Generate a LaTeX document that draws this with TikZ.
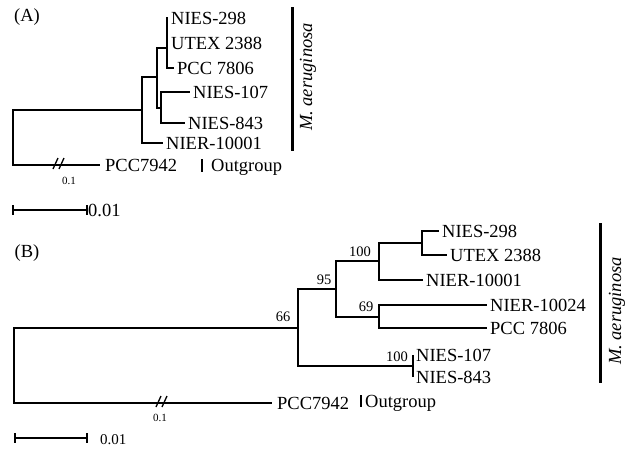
\documentclass[tikz,border=0pt]{standalone}
\usepackage{fontspec}
\setmainfont{Liberation Serif}
\newcommand\mylabfont{\fontsize{18.5}{20}\selectfont}
\newcommand\myboofont{\fontsize{14.5}{16}\selectfont}
\newcommand\mybrkfont{\fontsize{11}{12}\selectfont}
\begin{document}
\begin{tikzpicture}[x=1pt,y=-1pt,
  brn/.style={line width=1.3pt},
  lab/.style={anchor=west,inner ysep=2pt,inner xsep=3pt,font=\mylabfont,text height=12pt,text depth=0pt},
  boot/.style={font=\myboofont,inner sep=1pt},
  brklab/.style={font=\mybrkfont,inner sep=0pt},
  clade/.style={line width=3pt},
  cladelab/.style={rotate=90,font=\mylabfont\itshape,text height=12pt,text depth=4pt,inner sep=0pt},
  panel/.style={font=\mylabfont,inner sep=0pt}]
\useasboundingbox (0,0) rectangle (629,448);

% ---------------- Panel A ----------------
\node[panel] (pA) at (27,17) {(A)};
\coordinate (ar) at (13,137);
\coordinate (a1) at (142,110);
\coordinate (a2) at (157,77);
\coordinate (a3) at (161,108);
\coordinate (a4) at (167,48);
\coordinate (a5) at (167,31);
\coordinate (a6) at (167,43);

\node[lab] (nierA) at (163,143) {NIER-10001};
\node[lab] (n107A) at (190,92) {NIES-107};
\node[lab] (n843A) at (185,123) {NIES-843};
\node[lab] (pcc7806A) at (174,68) {PCC 7806};
\node[lab] (n298A) at (168,18) {NIES-298};
\node[lab] (utexA) at (168,43) {UTEX 2388};
\node[lab,inner xsep=5pt] (pccA) at (100,165) {PCC7942};

\draw[brn] (ar) |- (a1);
\draw[brn] (a1) |- (a2);
\draw[brn] (a1) |- (nierA.west);
\draw[brn] (a2) |- (a3);
\draw[brn] (a2) |- (a4);
\draw[brn] (a3) |- (n107A.west);
\draw[brn] (a3) |- (n843A.west);
\draw[brn] (a4) |- (pcc7806A.west);
\draw[brn] (a4) |- (n298A.west);
\draw[brn] (a4) |- (utexA.west);
\draw[line width=2.6pt] (a5) -- (a6);
\draw[brn] (ar) |- (pccA.west);
\coordinate (brkA) at (58,165);
\draw[brn] (brkA) ++(-5,4) -- ++(5,-11);
\draw[brn] (brkA) ++(1,4) -- ++(5,-11);
\node[brklab] (brkAl) at (69,181) {0.1};

\node[lab,inner xsep=2pt] (ogA) at (209,165) {Outgroup};
\coordinate (ogAt) at (202,159);
\coordinate (ogAb) at (202,172);
\draw[line width=2.4pt] (ogAt) -- (ogAb);

\coordinate (mAt) at (292,7);
\coordinate (mAb) at (292,151);
\draw[clade] (mAt) -- (mAb);
\node[cladelab] (mAl) at (308,77) {M. aeruginosa};

\coordinate (sA1) at (13,210);
\coordinate (sA2) at (87,210);
\draw[brn] (sA1) -- (sA2);
\draw[brn] (sA1) ++(0,-5) -- ++(0,10);
\draw[brn] (sA2) ++(0,-5) -- ++(0,10);
\node[lab,inner xsep=1pt] (sAl) at (87,210) {0.01};

% ---------------- Panel B ----------------
\node[panel] (pB) at (27,253) {(B)};
\coordinate (br) at (14,365);
\coordinate (b1) at (298,328);
\coordinate (b2) at (336,289);
\coordinate (b3) at (379,261);
\coordinate (b4) at (422,243);
\coordinate (b5) at (379,317);
\coordinate (b6) at (413,366);

\node[lab] (n298B) at (439,231) {NIES-298};
\node[lab] (utexB) at (447,255) {UTEX 2388};
\node[lab] (nierB) at (423,280) {NIER-10001};
\node[lab] (nier24B) at (487,305) {NIER-10024};
\node[lab] (pcc7806B) at (487,328) {PCC 7806};
\node[lab] (n107B) at (413,355) {NIES-107};
\node[lab] (n843B) at (413,377) {NIES-843};
\node[lab,inner xsep=5pt] (pccB) at (272,403) {PCC7942};

\draw[brn] (br) |- (b1);
\draw[brn] (b1) |- (b2);
\draw[brn] (b1) |- (b6);
\draw[brn] (b2) |- (b3);
\draw[brn] (b2) |- (b5);
\draw[brn] (b3) |- (b4);
\draw[brn] (b3) |- (nierB.west);
\draw[brn] (b4) |- (n298B.west);
\draw[brn] (b4) |- (utexB.west);
\draw[brn] (b5) |- (nier24B.west);
\draw[brn] (b5) |- (pcc7806B.west);
\draw[brn] (b6) |- (n107B.west);
\draw[brn] (b6) |- (n843B.west);
\draw[brn] (br) |- (pccB.west);

\node[boot] (bs66) at (283,317) {66};
\node[boot] (bs95) at (324,280) {95};
\node[boot] (bs100a) at (360,252) {100};
\node[boot] (bs69) at (366,307) {69};
\node[boot] (bs100b) at (397,357) {100};

\coordinate (brkB) at (161,403);
\draw[brn] (brkB) ++(-5,4) -- ++(5,-11);
\draw[brn] (brkB) ++(1,4) -- ++(5,-11);
\node[brklab] (brkBl) at (160,418) {0.1};

\node[lab,inner xsep=2pt] (ogB) at (363,401) {Outgroup};
\coordinate (ogBt) at (361,395);
\coordinate (ogBb) at (361,407);
\draw[line width=2.4pt] (ogBt) -- (ogBb);

\coordinate (mBt) at (600,223);
\coordinate (mBb) at (600,383);
\draw[clade] (mBt) -- (mBb);
\node[cladelab] (mBl) at (617,311) {M. aeruginosa};

\coordinate (sB1) at (15,438);
\coordinate (sB2) at (87,438);
\draw[brn] (sB1) -- (sB2);
\draw[brn] (sB1) ++(0,-5) -- ++(0,10);
\draw[brn] (sB2) ++(0,-5) -- ++(0,10);
\node[anchor=west,inner sep=0pt,font=\fontsize{15}{16}\selectfont] (sBl) at (100,440) {0.01};
\end{tikzpicture}
\end{document}
